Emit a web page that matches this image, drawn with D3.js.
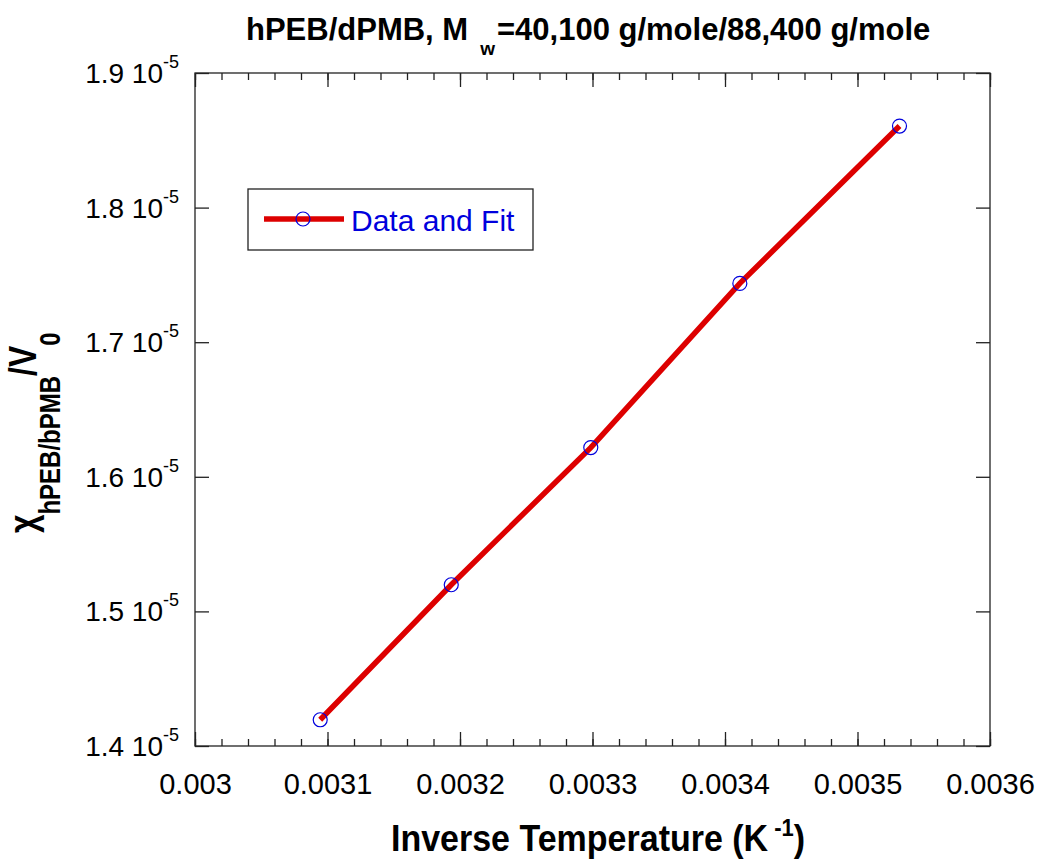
<!DOCTYPE html>
<html><head><meta charset="utf-8">
<script src="https://cdn.jsdelivr.net/npm/d3@7"></script>
<style>body{margin:0;background:#fff}</style>
</head><body>
<svg id="c" width="1040" height="861"></svg>
<script>
const invT = [0.0030945, 0.0031934, 0.0032987, 0.0034112, 0.0035317];
const chi = [1.4195e-5, 1.5198e-5, 1.6217e-5, 1.7437e-5, 1.8606e-5];
const xTicks = [0.003, 0.0031, 0.0032, 0.0033, 0.0034, 0.0035, 0.0036];
const xTickLabels = ["0.003","0.0031","0.0032","0.0033","0.0034","0.0035","0.0036"];
const yTicks = [1.4e-5, 1.5e-5, 1.6e-5, 1.7e-5, 1.8e-5, 1.9e-5];
const yTickMantissa = ["1.4","1.5","1.6","1.7","1.8","1.9"];
const seriesName = "Data and Fit";

const svg = d3.select("#c");
const L = 195, R = 990, T = 73, B = 746;
const x = d3.scaleLinear().domain([0.003, 0.0036]).range([L, R]);
const y = d3.scaleLinear().domain([1.4e-5, 1.9e-5]).range([B, T]);
const font = "Arial, 'Liberation Sans', sans-serif";
const ink = "#222";

const xMinor = d3.range(0, 31).map(i => 0.003 + i * 0.00002);

svg.append("rect").attr("x", L).attr("y", T).attr("width", R - L).attr("height", B - T)
  .attr("fill", "none").attr("stroke", ink).attr("stroke-width", 1.3);

function styleAxis(g) {
  g.select(".domain").remove();
  g.selectAll("line").attr("stroke", ink).attr("stroke-width", 1.3);
}

// bottom axis
const gB = svg.append("g").attr("transform", `translate(0,${B})`)
  .call(d3.axisBottom(x).tickValues(xTicks).tickSizeInner(-14).tickSizeOuter(0)
    .tickFormat((d,i)=>xTickLabels[i]).tickPadding(27));
styleAxis(gB);
gB.selectAll("text").attr("font-family", font).attr("font-size", 29).attr("fill", "#000");
styleAxis(svg.append("g").attr("transform", `translate(0,${B})`)
  .call(d3.axisBottom(x).tickValues(xMinor).tickSizeInner(-7).tickSizeOuter(0).tickFormat("")));

// top axis
styleAxis(svg.append("g").attr("transform", `translate(0,${T})`)
  .call(d3.axisTop(x).tickValues(xTicks).tickSizeInner(-14).tickSizeOuter(0).tickFormat("")));
styleAxis(svg.append("g").attr("transform", `translate(0,${T})`)
  .call(d3.axisTop(x).tickValues(xMinor).tickSizeInner(-7).tickSizeOuter(0).tickFormat("")));

// left / right axes
styleAxis(svg.append("g").attr("transform", `translate(${L},0)`)
  .call(d3.axisLeft(y).tickValues(yTicks).tickSizeInner(-14).tickSizeOuter(0).tickFormat("")));
styleAxis(svg.append("g").attr("transform", `translate(${R},0)`)
  .call(d3.axisRight(y).tickValues(yTicks).tickSizeInner(-14).tickSizeOuter(0).tickFormat("")));

// y tick labels
yTicks.forEach((v, i) => {
  const t = svg.append("text").attr("x", 179).attr("y", y(v) + 10)
    .attr("text-anchor", "end").attr("font-family", font).attr("font-size", 28).attr("fill", "#000");
  t.append("tspan").text(yTickMantissa[i] + " 10");
  t.append("tspan").attr("dy", -15).attr("font-size", 18).text("-5");
});

// fit line
const line = d3.line().x(d => x(d[0])).y(d => y(d[1]));
svg.append("path").datum(invT.map((d, i) => [d, chi[i]]))
  .attr("d", line).attr("fill", "none").attr("stroke", "#dd0000").attr("stroke-width", 5.5);

// points
svg.selectAll("circle.pt").data(invT).enter().append("circle").attr("class", "pt")
  .attr("cx", d => x(d)).attr("cy", (d, i) => y(chi[i])).attr("r", 7)
  .attr("fill", "none").attr("stroke", "#0000dd").attr("stroke-width", 1.2);

// legend
svg.append("rect").attr("x", 248).attr("y", 189).attr("width", 285).attr("height", 61)
  .attr("fill", "#fff").attr("stroke", ink).attr("stroke-width", 1.3);
svg.append("line").attr("x1", 264).attr("x2", 344).attr("y1", 219).attr("y2", 219)
  .attr("stroke", "#dd0000").attr("stroke-width", 5.5);
svg.append("circle").attr("cx", 303).attr("cy", 219).attr("r", 7)
  .attr("fill", "none").attr("stroke", "#0000dd").attr("stroke-width", 1.2);
svg.append("text").attr("x", 351).attr("y", 231).attr("font-family", font).attr("font-size", 30)
  .attr("fill", "#0000dd").text(seriesName);

// title
const title = svg.append("text").attr("x", 246).attr("y", 40)
  .attr("font-family", font).attr("font-size", 31).attr("font-weight", "bold").attr("fill", "#000");
title.append("tspan").text("hPEB/dPMB, M");
title.append("tspan").attr("dx", 12).attr("dy", 15).attr("font-size", 19).text("w");
title.append("tspan").attr("dx", 2).attr("dy", -15).text("=40,100 g/mole/88,400 g/mole");

// x axis title
const xt = svg.append("g").attr("transform", "translate(598,851) scale(1,1.1)")
  .append("text").attr("x", 0).attr("y", 0).attr("text-anchor", "middle")
  .attr("font-family", font).attr("font-size", 34).attr("font-weight", "bold").attr("fill", "#000");
xt.append("tspan").text("Inverse Temperature (K");
xt.append("tspan").attr("dx", 6).attr("dy", -14).attr("font-size", 22).text("-1");
xt.append("tspan").attr("dy", 14).text(")");

// y axis title
const yt = svg.append("g").attr("transform", "translate(36,533) rotate(-90) scale(1,1.2)")
  .append("text").attr("x", 0).attr("y", 0)
  .attr("font-family", font).attr("font-size", 32).attr("font-weight", "bold").attr("fill", "#000");
yt.append("tspan").text("χ");
yt.append("tspan").attr("dy", 20).attr("font-size", 24).text("hPEB/bPMB");
yt.append("tspan").attr("dy", -20).text("/V");
yt.append("tspan").attr("dy", 20).attr("font-size", 24).text("0");
</script>
</body></html>
